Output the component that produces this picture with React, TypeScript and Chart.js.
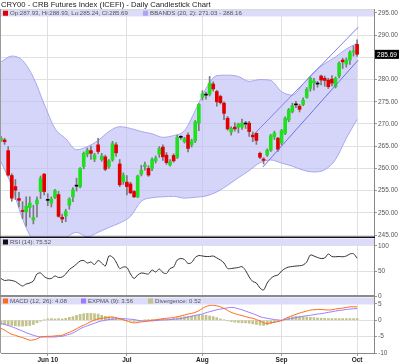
import React, { useEffect, useRef } from "react";
import { Chart, registerables } from "chart.js";

// ---------- data ----------
const titleText = "CRY00 - CRB Futures Index (ICEFI) - Daily Candlestick Chart";
const monthTickIdx = [13, 35, 56, 78, 99];
const monthTickLabels = ["Jun 10", "Jul", "Aug", "Sep", "Oct"];
const priceTicks = [245, 250, 255, 260, 265, 270, 275, 280, 285, 290, 295];
const rsiTicks = [0, 50, 100];
const macdTicks = [-10, -5, 0, 5];

const opens = [
  266.3, 266.4, 264.0, 258.4, 255.9, 253.2, 250.4, 250.2, 251.2, 248.4,
  252.0, 254.8, 258.7, 252.8, 252.2, 253.5, 254.1, 249.0, 249.3, 251.7,
  253.6, 256.0, 255.9, 260.4, 263.2, 264.0, 262.1, 265.3, 262.0, 262.6,
  260.4, 261.9, 265.3, 261.0, 257.0, 256.9, 256.5, 254.8, 253.6, 258.7,
  260.4, 260.0, 260.0, 261.7, 263.2, 264.8, 263.0, 260.8, 262.9, 262.5,
  267.0, 266.0, 267.5, 265.3, 266.2, 270.2, 276.0, 276.5, 276.7, 279.0,
  277.3, 276.2, 274.7, 271.3, 268.2, 269.3, 269.3, 269.3, 270.0, 270.2,
  267.5, 267.9, 263.4, 262.1, 263.0, 264.1, 267.1, 266.8, 265.7, 267.9,
  270.9, 272.8, 274.3, 274.0, 274.4, 276.0, 278.0, 279.3, 279.0, 280.8,
  280.3, 279.9, 280.1, 278.4, 280.8, 284.4, 283.5, 284.4, 286.2, 287.93,
];
const highs = [
  267.2, 266.8, 264.9, 258.8, 257.5, 254.6, 252.5, 253.6, 253.6, 251.7,
  253.6, 258.3, 258.9, 254.3, 253.6, 255.3, 254.8, 249.7, 250.8, 253.4,
  255.7, 257.8, 260.2, 263.7, 264.6, 265.0, 263.4, 266.8, 263.4, 263.0,
  262.0, 266.1, 265.8, 262.0, 259.0, 258.4, 256.9, 255.0, 258.5, 260.7,
  261.4, 260.6, 262.4, 262.8, 264.9, 265.3, 263.6, 262.0, 263.3, 267.5,
  267.4, 267.0, 268.0, 266.6, 270.8, 274.6, 277.5, 277.2, 280.7, 279.5,
  277.6, 276.5, 275.0, 271.7, 269.4, 270.3, 270.2, 271.1, 270.6, 270.6,
  268.2, 268.0, 263.7, 262.4, 264.4, 267.7, 268.4, 267.0, 268.8, 271.6,
  273.5, 274.7, 275.1, 274.4, 275.9, 278.2, 280.6, 280.3, 279.6, 281.0,
  280.8, 280.3, 280.9, 280.6, 284.0, 284.8, 284.9, 286.5, 287.6, 288.93,
];
const lows = [
  266.0, 265.4, 258.3, 252.6, 253.0, 251.3, 248.7, 247.0, 249.0, 247.5,
  249.0, 253.2, 254.0, 251.6, 251.3, 253.2, 249.0, 247.8, 248.0, 250.8,
  252.5, 254.9, 255.6, 259.9, 262.6, 262.0, 261.5, 263.3, 261.6, 259.5,
  260.0, 261.6, 262.7, 255.9, 256.4, 254.0, 254.3, 253.4, 253.4, 258.3,
  259.6, 258.2, 259.5, 261.2, 262.5, 261.8, 260.9, 260.5, 261.4, 262.2,
  266.5, 265.7, 263.7, 264.8, 265.8, 268.5, 275.4, 275.6, 276.3, 277.4,
  274.0, 274.5, 271.0, 268.6, 267.5, 268.4, 268.0, 268.8, 269.0, 267.2,
  266.0, 265.4, 262.2, 261.0, 262.7, 263.8, 266.5, 263.8, 265.3, 267.6,
  270.5, 272.5, 273.7, 272.7, 274.1, 275.8, 277.4, 277.6, 278.3, 278.8,
  278.5, 278.0, 278.6, 278.1, 280.4, 282.5, 282.8, 283.4, 285.3, 285.24,
];
const closes = [
  266.8, 266.0, 258.5, 253.3, 255.1, 252.8, 250.3, 251.5, 252.2, 248.9,
  252.9, 257.8, 254.8, 252.8, 253.1, 255.0, 249.2, 248.6, 250.3, 253.1,
  255.2, 256.0, 260.0, 263.4, 264.1, 263.4, 263.0, 263.8, 262.8, 259.8,
  261.7, 265.6, 263.5, 256.3, 258.5, 255.9, 254.5, 253.6, 258.3, 259.6,
  260.8, 258.5, 262.0, 262.3, 264.5, 262.6, 261.3, 261.5, 261.7, 267.0,
  267.0, 266.7, 264.5, 266.2, 270.5, 274.4, 276.8, 276.5, 279.2, 277.9,
  275.0, 274.8, 272.4, 268.9, 269.0, 268.9, 270.0, 270.2, 270.0, 268.3,
  267.1, 266.3, 262.5, 261.8, 264.1, 267.4, 268.0, 264.3, 268.5, 271.3,
  273.2, 274.1, 274.3, 273.3, 275.4, 277.8, 280.3, 279.7, 279.0, 279.9,
  279.8, 278.4, 279.2, 280.3, 283.7, 284.0, 284.4, 286.1, 286.5, 285.69,
];

const bandIdx = [0, 3, 6, 9, 12, 15, 18, 21, 24, 27, 30, 33, 36, 39, 42, 45, 48, 51, 54, 57, 60, 63, 66, 69, 72, 75, 78, 81, 84, 87, 90, 93, 96, 99];
const bandUpper = [
  284.0, 285.3, 284.3, 280.5, 274.5, 269.0, 266.7, 264.2, 264.9, 266.3,
  268.3, 269.4, 269.0, 268.3, 267.8, 267.0, 267.4, 268.5, 273.0, 278.0,
  280.9, 281.0, 280.7, 279.6, 280.0, 279.8, 277.3, 276.5, 279.0, 281.7,
  283.6, 285.1, 286.9, 288.16,
];
const bandLower = [
  261.5, 256.0, 248.6, 243.8, 243.0, 243.0, 244.4, 245.6, 244.6, 245.6,
  246.7, 247.7, 249.2, 252.6, 253.4, 253.6, 253.7, 253.3, 253.5, 253.8,
  254.7, 256.2, 257.9, 259.5, 261.3, 261.9, 261.2, 260.5, 259.6, 259.2,
  259.7, 262.0, 266.8, 271.03,
];

const channelUpperIdx = [70.6, 99.3];
const channelUpper = [267.9, 291.8];
const channelLowerIdx = [72.8, 99.3];
const channelLower = [260.3, 284.4];

const rsi = [
  35, 31, 32, 31, 29, 24, 20, 24, 26, 30,
  44, 46, 39, 35, 35, 40, 37, 38, 44, 53,
  58, 64, 70, 71, 66, 68, 63, 71, 66, 60,
  80, 78, 68, 55, 58, 57, 44, 35, 42, 46,
  45, 44, 52, 48, 54, 47, 45, 55, 58, 72,
  75, 73, 65, 67, 77, 81, 80, 79, 79, 80,
  76, 72, 66, 55, 55, 56, 57, 58.7, 51, 38,
  29, 26, 16, 12, 26, 35, 40, 42, 50, 55,
  58, 59, 60, 60.5, 62, 68, 82, 80, 77, 75,
  76, 84, 79, 78.5, 79, 78.5, 80, 84, 84.5, 75.52,
];
const macd = [
  -2.5, -3.0, -3.7, -4.3, -4.6, -5.0, -5.3, -5.7, -6.1, -6.0,
  -5.7, -5.1, -5.0, -4.9, -4.9, -4.8, -4.7, -4.6, -4.1, -3.7,
  -3.2, -2.6, -2.0, -1.5, -1.0, -0.4, 0.0, 0.4, 0.6, 0.7,
  0.9, 1.0, 0.8, 0.5, 0.1, -0.2, -0.6, -0.8, -0.7, -0.5,
  -0.4, -0.2, 0.0, 0.1, 0.3, 0.5, 0.6, 0.7, 0.8, 1.1,
  1.3, 1.6, 1.9, 2.1, 2.4, 2.9, 3.6, 4.2, 4.5, 4.6,
  4.4, 4.1, 3.6, 3.0, 2.4, 2.0, 1.7, 1.4, 1.1, 0.8,
  0.6, 0.2, -0.2, -0.8, -1.0, -0.8, -0.6, -0.4, -0.1, 0.5,
  1.0, 1.4, 1.8, 2.2, 2.5, 2.8, 3.1, 3.2, 3.3, 3.3,
  3.2, 3.1, 3.2, 3.4, 3.6, 3.7, 3.9, 4.1, 4.1, 4.08,
];
const expma = [
  -1.0, -1.3, -1.6, -2.0, -2.4, -2.9, -3.3, -3.8, -4.2, -4.6,
  -4.9, -5.1, -5.1, -5.1, -5.1, -5.1, -5.0, -4.9, -4.6, -4.3,
  -3.9, -3.3, -2.6, -2.1, -1.7, -1.3, -0.9, -0.5, -0.2, 0.0,
  0.2, 0.3, 0.4, 0.5, 0.5, 0.4, 0.3, 0.2, 0.0, -0.2,
  -0.2, -0.2, -0.2, -0.1, 0.0, 0.1, 0.1, 0.2, 0.3, 0.4,
  0.5, 0.7, 1.0, 1.2, 1.5, 1.7, 1.9, 2.3, 2.6, 2.9,
  3.2, 3.4, 3.6, 3.8, 3.9, 3.8, 3.5, 3.2, 2.8, 2.4,
  2.0, 1.6, 1.1, 0.8, 0.6, 0.4, 0.2, 0.1, 0.0, 0.2,
  0.4, 0.6, 0.8, 1.0, 1.2, 1.4, 1.5, 1.7, 1.9, 2.0,
  2.2, 2.4, 2.6, 2.8, 3.0, 3.1, 3.3, 3.4, 3.5, 3.56,
];
const divergence = [
  -1.2, -1.3, -1.5, -1.6, -1.7, -1.8, -1.8, -1.7, -1.6, -1.3,
  -0.8, -0.3, 0.1, 0.4, 0.5, 0.4, 0.5, 0.4, 0.6, 0.9,
  1.1, 1.5, 1.8, 2.0, 2.1, 2.1, 2.0, 1.9, 1.5, 1.2,
  1.1, 0.9, 0.6, 0.4, 0.3, -0.1, -0.3, -0.4, -0.3, -0.2,
  0.1, 0.2, 0.2, 0.2, 0.3, 0.3, 0.3, 0.3, 0.5, 0.8,
  1.0, 1.1, 1.2, 1.3, 1.4, 1.5, 1.6, 1.5, 1.3, 1.1,
  0.8, 0.4, 0.1, -0.2, -0.4, -0.6, -0.7, -0.8, -0.8, -0.9,
  -1.1, -1.3, -1.5, -1.6, -1.4, -1.0, -0.7, -0.4, -0.1, 0.4,
  0.8, 1.1, 1.2, 1.2, 1.1, 1.0, 0.9, 0.8, 0.7, 0.6,
  0.6, 0.5, 0.5, 0.5, 0.5, 0.5, 0.5, 0.5, 0.5, 0.52,
];

// ---------- styles ----------
const FONT = '"Liberation Sans", Arial, sans-serif';
const GREEN = "#1fe01f";
const RED = "#e00000";
const GRID = "#e0e0e0";
const BAND_BG = "#dcdcf8";

// clip every dataset to the panel (stacked y scale) it belongs to
const panelClip = {
  id: "panelClip",
  beforeDatasetDraw(chart: any, args: any) {
    const ys = chart.scales[args.meta.yAxisID];
    const ca = chart.chartArea;
    const ctx = chart.ctx;
    ctx.save();
    ctx.beginPath();
    ctx.rect(ca.left, ys.top, ca.right - ca.left, ys.bottom - ys.top);
    ctx.clip();
  },
  afterDatasetDraw(chart: any) {
    chart.ctx.restore();
  },
};
Chart.register(panelClip);
Chart.register(...registerables);

// draw text so that it spans a given pixel width
const fitText = (ctx: CanvasRenderingContext2D, text: string, x: number, y: number, width: number, weight = "normal") => {
  ctx.font = `${weight} 10px ${FONT}`;
  const w10 = ctx.measureText(text).width;
  const size = (10 * width) / w10;
  ctx.font = `${weight} ${size.toFixed(2)}px ${FONT}`;
  ctx.fillText(text, x, y);
};

const decorations = {
  id: "decorations",
  afterDraw(chart: any) {
    const { ctx, chartArea: ca, scales } = chart;
    const ys = scales.y, yr = scales.yRsi, ym = scales.yMacd;
    const w = ca.right - ca.left;
    ctx.save();
    // faint top border
    ctx.fillStyle = "#d8d8d8";
    ctx.fillRect(0, ca.top, ca.right, 1);
    // legend bands
    ctx.fillStyle = BAND_BG;
    ctx.fillRect(ca.left, ys.top + 1, w, 6.5);
    ctx.fillRect(ca.left, yr.top + 1.5, w, 7);
    ctx.fillRect(ca.left, ym.top + 1.5, w, 7);

    // panel separators and borders
    ctx.fillStyle = "#9a9a9a";
    ctx.fillRect(0, ca.top, 1, ca.bottom - ca.top);
    ctx.fillStyle = "#111";
    ctx.fillRect(0, ys.bottom - 0.5, ca.right + 1, 1.5);
    ctx.fillStyle = "#8a8a8a";
    ctx.fillRect(0, yr.bottom - 1, ca.right + 1, 2);

    // legend texts
    ctx.textBaseline = "middle";
    const item = (x: number, yc: number, color: string, text: string, width: number) => {
      ctx.fillStyle = color;
      ctx.fillRect(x, yc - 2.5, 5, 5);
      ctx.fillStyle = "#555";
      fitText(ctx, text, x + 7, yc + 0.5, width);
    };
    const last = closes.length - 1;
    const yMain = ys.top + 4.25;
    item(3, yMain, RED,
      `Op:${opens[last].toFixed(2)}, Hi:${highs[last].toFixed(2)}, Lo:${lows[last].toFixed(2)}, Cl:${closes[last].toFixed(2)}`, 118);
    item(143, yMain, "#a8a8f0",
      `BBANDS (20, 2): ${bandLower[bandLower.length - 1].toFixed(2)} - ${bandUpper[bandUpper.length - 1].toFixed(2)}`, 92);
    item(3, yr.top + 5, "#111", `RSI (14): ${rsi[last].toFixed(2)}`, 41);
    const yM = ym.top + 5;
    item(3, yM, "#ff6a1a", `MACD (12, 26): ${macd[last].toFixed(2)}`, 57);
    item(81, yM, "#9a7cff", `EXPMA (9): ${expma[last].toFixed(2)}`, 45);
    item(148, yM, "#c2c28a", `Divergence: ${divergence[last].toFixed(2)}`, 46);

    // last price tag
    const py = ys.getPixelForValue(closes[last]);
    ctx.fillStyle = "#000";
    ctx.fillRect(ca.right + 1, py - 4.5, 24, 9);
    ctx.fillStyle = "#fff";
    fitText(ctx, closes[last].toFixed(2), ca.right + 3, py + 0.5, 20);

    // title
    ctx.fillStyle = "#1a1a1a";
    ctx.textBaseline = "top";
    fitText(ctx, titleText, 1, 1, 210);
    ctx.restore();
  },
};

const fixWidth = (s: any) => { s.width = 26; };
const tickFont = { size: 6.5, family: FONT };

export default function App() {
  const ref = useRef<HTMLCanvasElement | null>(null);
  useEffect(() => {
    if (!ref.current) return;
    const idx = opens.map((_, i) => i);
    const bodyColors = opens.map((o, i) => (closes[i] > o ? GREEN : closes[i] < o ? RED : "#000"));
    const chart = new Chart(ref.current, {
      type: "bar",
      data: {
        datasets: [
          {
            type: "line",
            data: bandIdx.map((x, i) => ({ x, y: bandUpper[i] })),
            yAxisID: "y",
            borderColor: "#a6a6f0",
            borderWidth: 1,
            pointRadius: 0,
            cubicInterpolationMode: "monotone",
            fill: "+1",
            backgroundColor: "rgba(190,190,248,0.65)",
            order: 10,
          } as any,
          {
            type: "line",
            data: bandIdx.map((x, i) => ({ x, y: bandLower[i] })),
            yAxisID: "y",
            borderColor: "#a6a6f0",
            borderWidth: 1,
            pointRadius: 0,
            cubicInterpolationMode: "monotone",
            fill: false,
            order: 9,
          } as any,
          {
            type: "line",
            data: channelUpperIdx.map((x, i) => ({ x, y: channelUpper[i] })),
            yAxisID: "y",
            borderColor: "#7f7fe8",
            borderWidth: 1,
            pointRadius: 0,
            fill: false,
            order: 1,
          } as any,
          {
            type: "line",
            data: channelLowerIdx.map((x, i) => ({ x, y: channelLower[i] })),
            yAxisID: "y",
            borderColor: "#6f6fe0",
            borderWidth: 1,
            pointRadius: 0,
            fill: false,
            order: 1,
          } as any,
          {
            type: "bar",
            data: idx.map((i) => ({ x: i, y: [lows[i], highs[i]] })),
            yAxisID: "y",
            backgroundColor: "#7a7a7a",
            barThickness: 1,
            grouped: false,
            order: 3,
          } as any,
          {
            type: "bar",
            data: idx.map((i) => ({ x: i, y: [opens[i], closes[i]] })),
            yAxisID: "y",
            backgroundColor: bodyColors,
            barThickness: 3,
            minBarLength: 1,
            grouped: false,
            order: 2,
          } as any,
          {
            type: "line",
            data: idx.map((i) => ({ x: i, y: rsi[i] })),
            yAxisID: "yRsi",
            borderColor: "#333",
            borderWidth: 1,
            pointRadius: 0,
            tension: 0.3,
            fill: false,
            order: 1,
          } as any,
          {
            type: "bar",
            data: idx.map((i) => ({ x: i, y: divergence[i] })),
            yAxisID: "yMacd",
            backgroundColor: "#c2c28a",
            barThickness: 2,
            grouped: false,
            order: 5,
          } as any,
          {
            type: "line",
            data: idx.map((i) => ({ x: i, y: expma[i] })),
            yAxisID: "yMacd",
            borderColor: "#9a7cff",
            borderWidth: 1,
            pointRadius: 0,
            tension: 0.3,
            fill: false,
            order: 1,
          } as any,
          {
            type: "line",
            data: idx.map((i) => ({ x: i, y: macd[i] })),
            yAxisID: "yMacd",
            borderColor: "#ff6a1a",
            borderWidth: 1,
            pointRadius: 0,
            tension: 0.3,
            fill: false,
            order: 0,
          } as any,
        ],
      },
      options: {
        animation: false,
        responsive: false,
        events: [],
        layout: { padding: { left: 1, top: 9, right: 0, bottom: 0 } },
        plugins: { legend: { display: false }, tooltip: { enabled: false }, title: { display: false } },
        scales: {
          x: {
            type: "linear",
            min: 0,
            max: 103.7,
            offset: false,
            grid: { color: GRID, offset: false, tickLength: 3, tickColor: "#999" },
            border: { color: "#888" },
            afterBuildTicks: (s: any) => { s.ticks = monthTickIdx.map((v) => ({ value: v })); },
            afterFit: (s: any) => { s.height = 11; },
            ticks: {
              autoSkip: false,
              maxRotation: 0,
              padding: 0,
              color: "#222",
              font: { size: 6.5, family: FONT, weight: "bold" },
              callback: (v: any) => { const k = monthTickIdx.indexOf(Number(v)); return k >= 0 ? monthTickLabels[k] : ""; },
            },
          },
          y: {
            type: "linear",
            position: "right",
            stack: "panels",
            stackWeight: 228,
            min: 244.55,
            max: 295.9,
            grid: { color: GRID, tickLength: 3, tickColor: "#999" },
            border: { color: "#888" },
            afterBuildTicks: (s: any) => { s.ticks = priceTicks.map((v) => ({ value: v })); },
            afterFit: fixWidth,
            ticks: { autoSkip: false, padding: 1, color: "#555", font: tickFont, callback: (v: any) => Number(v).toFixed(2) },
          },
          yRsi: {
            type: "linear",
            position: "right",
            stack: "panels",
            stackWeight: 59,
            min: 0,
            max: 118,
            grid: { color: GRID, tickLength: 3, tickColor: "#999" },
            border: { color: "#888" },
            afterBuildTicks: (s: any) => { s.ticks = rsiTicks.map((v) => ({ value: v })); },
            afterFit: fixWidth,
            ticks: { autoSkip: false, padding: 1, color: "#555", font: tickFont, callback: (v: any) => String(v) },
          },
          yMacd: {
            type: "linear",
            position: "right",
            stack: "panels",
            stackWeight: 57,
            min: -10,
            max: 7.4,
            grid: { color: GRID, tickLength: 3, tickColor: "#999" },
            border: { color: "#888" },
            afterBuildTicks: (s: any) => { s.ticks = macdTicks.map((v) => ({ value: v })); },
            afterFit: fixWidth,
            ticks: { autoSkip: false, padding: 1, color: "#555", font: tickFont, callback: (v: any) => String(v) },
          },
        } as any,
      },
      plugins: [decorations],
    } as any);
    return () => chart.destroy();
  }, []);
  return (
    <div style={{ position: "fixed", left: 0, top: 0, width: 400, height: 364, background: "#fff" }}>
      <canvas ref={ref} width={400} height={364} style={{ display: "block", width: 400, height: 364 }} />
    </div>
  );
}
